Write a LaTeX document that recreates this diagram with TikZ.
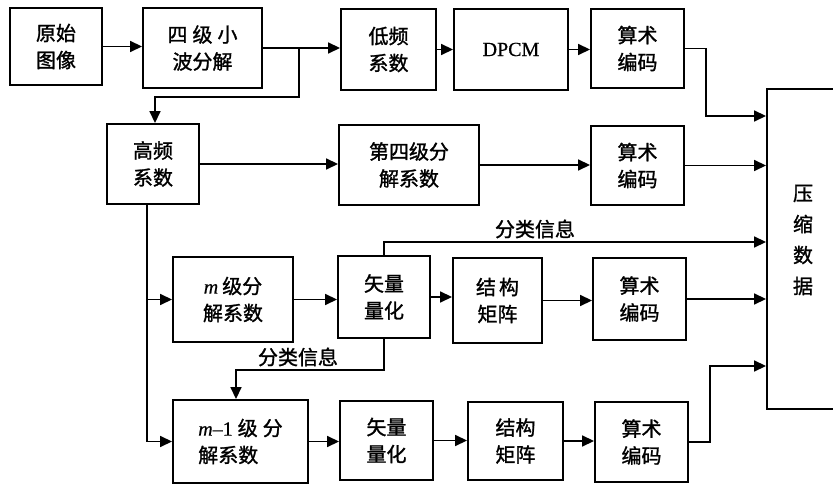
\documentclass[tikz,border=0pt]{standalone}
\usepackage{fontspec}
\newfontfamily\cjk{Noto Sans CJK SC}[FakeBold=1.3]
\newfontfamily\lat{Liberation Serif}[FakeBold=0.6]
\usetikzlibrary{arrows.meta,calc}
\begin{document}
\begin{tikzpicture}[x=1pt,y=-1pt,
  box/.style={draw, line width=1.9pt, inner sep=0pt, align=center,
    font=\cjk\fontsize{20pt}{27pt}\selectfont},
  conn/.style={line width=1.6pt, -{Triangle[length=12pt,width=11pt]}},
  wire/.style={line width=1.6pt},
  lbl/.style={font=\cjk\fontsize{20pt}{24pt}\selectfont, inner sep=0pt}]
\useasboundingbox (0,0) rectangle (833,486);
\fill[white] (0,0) rectangle (833,486);
% row 1
\node[box, minimum width=92pt, minimum height=77pt] (o) at (56,46.5) {原始\\图像};
\node[box, minimum width=119pt, minimum height=80pt] (w) at (202.5,48) {四\hspace{5pt}级\hspace{5pt}小\\波分解};
\node[box, minimum width=95pt, minimum height=81pt] (lf) at (388.5,49.5) {低频\\系数};
\node[box, minimum width=114pt, minimum height=81pt] (dp) at (511,49.5) {\lat DPCM};
\node[box, minimum width=93pt, minimum height=79pt] (a1) at (637.5,48.5) {算术\\编码};
% row 2
\node[box, minimum width=92pt, minimum height=80pt] (hf) at (153,164) {高频\\系数};
\node[box, minimum width=140pt, minimum height=80pt] (f4) at (409,165) {第四级分\\解系数};
\node[box, minimum width=93pt, minimum height=79pt] (a2) at (637.5,165.5) {算术\\编码};
% row 3
\node[box, minimum width=120pt, minimum height=85pt] (m) at (233,299.5) {{\lat\itshape m}\hspace{4pt}级分\\解系数};
\node[box, minimum width=92pt, minimum height=82pt] (vq1) at (384,297) {矢量\\量化};
\node[box, minimum width=89pt, minimum height=85pt] (sm1) at (497.5,300.5) {结\hspace{3pt}构\\矩阵};
\node[box, minimum width=93pt, minimum height=82pt] (a3) at (639.5,299) {算术\\编码};
% row 4
\node[box, align=left, minimum width=135pt, minimum height=83pt] (m1) at (240.5,441.5) {{\lat\itshape m}{\lat –1}\hspace{5pt}级\hspace{5pt}分\\解系数};
\node[box, minimum width=93pt, minimum height=79pt] (vq2) at (386.5,440.5) {矢量\\量化};
\node[box, minimum width=95pt, minimum height=78pt] (sm2) at (515.5,441) {结构\\矩阵};
\node[box, minimum width=93pt, minimum height=80pt] (a4) at (641.5,442) {算术\\编码};
% output box
\node[box, minimum width=73pt, minimum height=320pt] (big) at (803.5,249) {};
\node[lbl, align=center, font=\cjk\fontsize{20pt}{31pt}\selectfont] (bigt) at (803,240) {压\\缩\\数\\据};
% connectors row 1
\draw[conn] (o.east) -- (o.east -| w.west);
\draw[conn] (w.east) -- (w.east -| lf.west);
\coordinate (j1) at (299,48);
\coordinate (j2) at (155,97);
\draw[conn] (j1) |- (j2) -- (j2 |- hf.north);
\draw[conn] (lf.east) -- (lf.east -| dp.west);
\draw[conn] (dp.east) -- (dp.east -| a1.west);
\coordinate (k1) at (706,116);
\draw[conn] (a1.east) -| (k1) -- (k1 -| big.west);
% row 2
\draw[conn] (hf.east) -- (hf.east -| f4.west);
\draw[conn] (f4.east) -- (f4.east -| a2.west);
\draw[conn] (a2.east) -- (a2.east -| big.west);
% trunk
\coordinate (t0) at ([xshift=-6pt]hf.south);
\draw[wire] (t0) -- (t0 |- m1.west);
\draw[conn] (t0 |- m.west) -- (m.west);
\draw[conn] (t0 |- m1.west) -- (m1.west);
% row 3
\draw[conn] (m.east) -- (m.east -| vq1.west);
\draw[conn] (vq1.east) -- (vq1.east -| sm1.west);
\draw[conn] (sm1.east) -- (sm1.east -| a3.west);
\draw[conn] (a3.east) -- (a3.east -| big.west);
\coordinate (k3) at (700,242);
\draw[conn] (vq1.north) |- (k3 -| big.west);
\node[lbl] (c1) at (535,229) {分类信息};
\coordinate (k4) at (236,370);
\draw[conn] (vq1.south) |- (k4) -- (k4 |- m1.north);
\node[lbl] (c2) at (298,357) {分类信息};
% row 4
\draw[conn] (m1.east) -- (m1.east -| vq2.west);
\draw[conn] (vq2.east) -- (vq2.east -| sm2.west);
\draw[conn] (sm2.east) -- (sm2.east -| a4.west);
\coordinate (k5) at (710,366);
\draw[conn] (a4.east) -| (k5) -- (k5 -| big.west);
\end{tikzpicture}
\end{document}
